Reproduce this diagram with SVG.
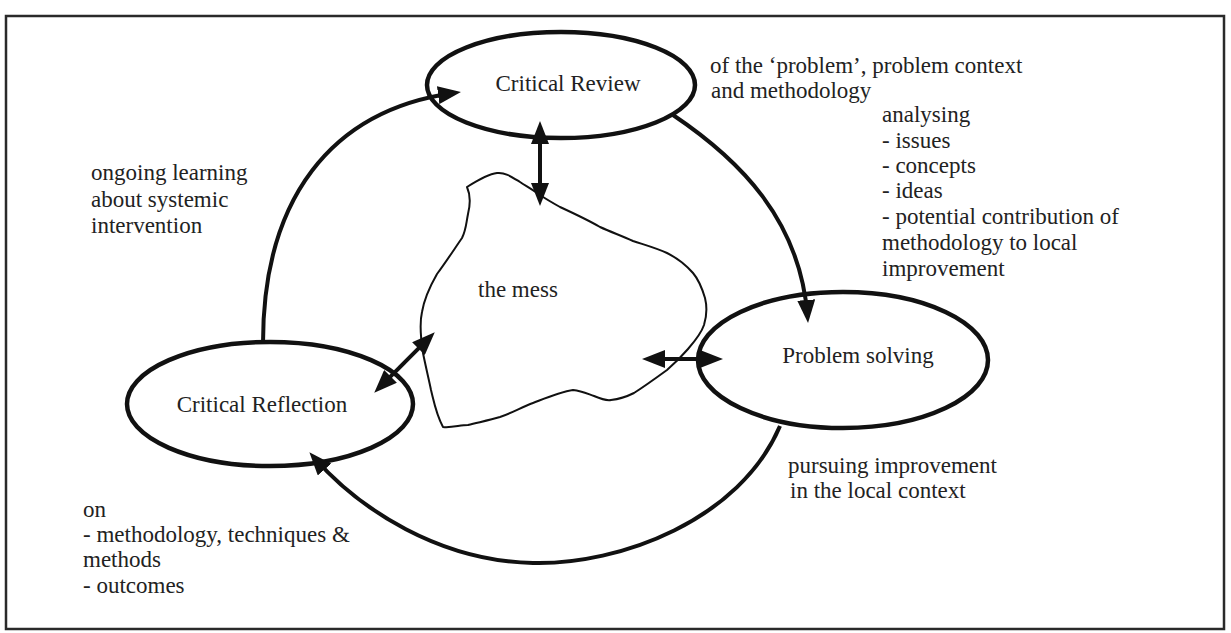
<svg xmlns="http://www.w3.org/2000/svg" width="1231" height="633" viewBox="0 0 1231 633">
  <style>
    .frame { fill: #fff; stroke: #2a2a2a; stroke-width: 2.5; }
    .node { fill: #fff; stroke: #111; stroke-width: 4.5; }
    .label { font-family: "Liberation Serif", "Times New Roman", serif; font-size: 23px; fill: #222; }
    .loop { fill: none; stroke: #111; stroke-width: 4; }
    .link { fill: none; stroke: #111; stroke-width: 4; }
    .mess { fill: #fff; stroke: #111; stroke-width: 2; stroke-linejoin: round; }
  </style>
  <defs>
    <marker id="head" markerUnits="userSpaceOnUse" markerWidth="24" markerHeight="18" refX="16" refY="9" orient="auto-start-reverse">
      <path d="M0,0 L23,9 L0,18 Z" fill="#111"/>
    </marker>
  </defs>

  <rect class="frame" x="6" y="16" width="1218" height="613"/>

  <!-- central problem situation -->
  <g id="mess">
    <path class="mess" d="M467,187 C471,196 470,206 468,214 C466,224 466,230 462,238 C455,248 446,262 437,274 C429,288 424,300 422,312 C419,325 421,340 423,353 C426,368 429,380 431,390 C434,402 436,414 443,427 C452,428 460,425 468,425 C480,422 490,420 500,417 C512,413 522,407 533,403 C546,398 560,392 573,390 C582,391 588,394 594,396 C601,399 606,401 611,400 C620,399 626,397 634,393 C645,386 656,378 667,370 C675,363 682,356 688,349 C695,341 701,334 704,325 C707,315 707,306 705,298 C702,288 699,280 693,273 C686,265 677,258 667,253 C656,248 645,245 633,241 C622,236 611,232 600,227 C588,220 573,213 560,207 C551,202 546,199 540,195 C533,190 526,186 520,182 C512,177 505,172 497,173 C488,174 478,180 467,187 Z"/>
    <text class="label" x="478" y="297">the mess</text>
  </g>

  <!-- activity nodes -->
  <g id="critical-review">
    <ellipse class="node" cx="561" cy="85" rx="134" ry="53"/>
    <text class="label" x="568" y="91" text-anchor="middle">Critical Review</text>
  </g>
  <g id="problem-solving">
    <ellipse class="node" cx="843" cy="360" rx="145" ry="68"/>
    <text class="label" x="858" y="363" text-anchor="middle">Problem solving</text>
  </g>
  <g id="critical-reflection">
    <ellipse class="node" cx="270" cy="404" rx="143" ry="62"/>
    <text class="label" x="262" y="412" text-anchor="middle">Critical Reflection</text>
  </g>

  <!-- connectors -->
  <g id="connectors">
    <!-- cycle: reflection -> review -> problem solving -> reflection -->
    <path class="loop" d="M263,343 C263,200 330,110 454,93" marker-end="url(#head)"/>
    <path class="loop" d="M673,115 C740,160 800,220 807.5,316" marker-end="url(#head)"/>
    <path class="loop" d="M780,426 C740,520 620,565 533,563 C440,561 360,510 314,457.5" marker-end="url(#head)"/>
    <!-- two-way links with the mess -->
    <path class="link" d="M540,128 L540,199" marker-start="url(#head)" marker-end="url(#head)"/>
    <path class="link" d="M379.2,387.8 L429.8,337.2" marker-start="url(#head)" marker-end="url(#head)"/>
    <path class="link" d="M649,359 L716,359" marker-start="url(#head)" marker-end="url(#head)"/>
  </g>

  <!-- annotations -->
  <g id="review-notes" class="label">
    <text x="710" y="73">of the ‘problem’, problem context</text>
    <text x="711" y="98">and methodology</text>
    <text x="882" y="122">analysing</text>
    <text x="882" y="148">- issues</text>
    <text x="882" y="173">- concepts</text>
    <text x="882" y="198">- ideas</text>
    <text x="882" y="224">- potential contribution of</text>
    <text x="882" y="250">methodology to local</text>
    <text x="882" y="276">improvement</text>
  </g>
  <g id="learning-notes" class="label">
    <text x="91" y="180">ongoing learning</text>
    <text x="91" y="207">about systemic</text>
    <text x="91" y="233">intervention</text>
  </g>
  <g id="solving-notes" class="label">
    <text x="788" y="473">pursuing improvement</text>
    <text x="790" y="498">in the local context</text>
  </g>
  <g id="reflection-notes" class="label">
    <text x="83" y="517">on</text>
    <text x="83" y="542">- methodology, techniques &amp;</text>
    <text x="83" y="567">methods</text>
    <text x="83" y="593">- outcomes</text>
  </g>
</svg>
